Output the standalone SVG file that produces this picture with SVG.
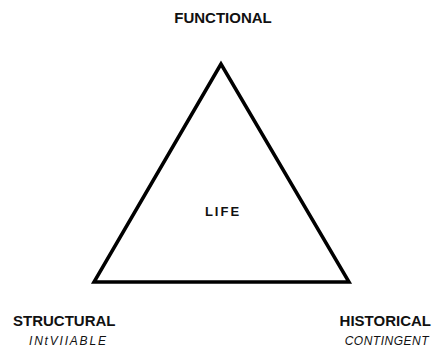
<svg xmlns="http://www.w3.org/2000/svg" width="435" height="349" viewBox="0 0 435 349">
<style>
.lbl{font-family:"Liberation Sans",Arial,sans-serif;font-weight:bold;font-size:15px;fill:#111}
.sub{font-family:"Liberation Sans",Arial,sans-serif;font-style:italic;font-size:12px;fill:#111}
.life{font-family:"Liberation Sans",Arial,sans-serif;font-weight:bold;font-size:13px;letter-spacing:2px;fill:#111}
</style>
<rect width="435" height="349" fill="#fff"/>
<g id="triangle">
<polygon points="221,64 94,282 349,282" fill="none" stroke="#000" stroke-width="3.5" stroke-linejoin="miter"/>
<text class="life" x="223" y="216" text-anchor="middle">LIFE</text>
</g>
<g id="functional">
<text class="lbl" x="223" y="23" text-anchor="middle">FUNCTIONAL</text>
</g>
<g id="structural">
<text class="lbl" x="13" y="326">STRUCTURAL</text>
<text class="sub" x="29" y="345" letter-spacing="1.8">INtVIIABLE</text>
</g>
<g id="historical">
<text class="lbl" x="431" y="326" text-anchor="end">HISTORICAL</text>
<text class="sub" x="429" y="345" text-anchor="end" letter-spacing="0.5">CONTINGENT</text>
</g>
</svg>
